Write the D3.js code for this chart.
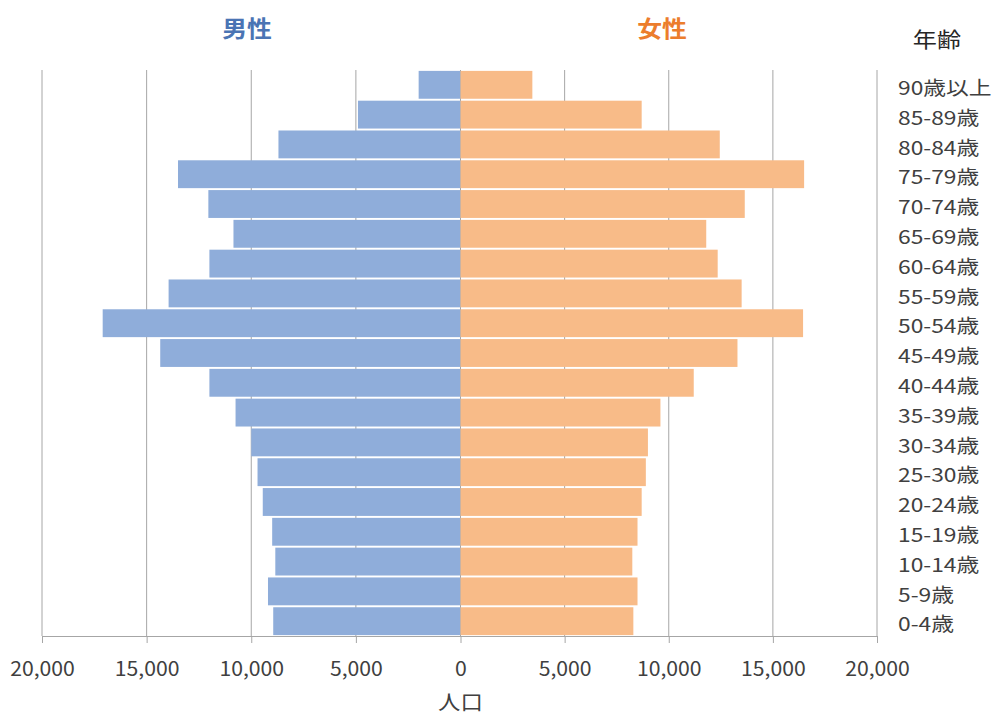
<!DOCTYPE html>
<html>
<head>
<meta charset="utf-8">
<script src="https://cdn.jsdelivr.net/npm/d3@7"></script>
<style>
  html, body { margin: 0; padding: 0; background: #fff; }
  svg { display: block; }
  text { font-family: "Noto Sans CJK JP", "Noto Sans", sans-serif; }
</style>
</head>
<body>
<svg id="chart" width="999" height="715"></svg>
<script>
// Age groups, oldest at the top
const ageGroups = ["90歳以上", "85-89歳", "80-84歳", "75-79歳", "70-74歳", "65-69歳",
  "60-64歳", "55-59歳", "50-54歳", "45-49歳", "40-44歳", "35-39歳", "30-34歳",
  "25-30歳", "20-24歳", "15-19歳", "10-14歳", "5-9歳", "0-4歳"];

// Population by age group
const male = [2000, 4900, 8700, 13500, 12050, 10850, 12000, 13950, 17100, 14350,
  12000, 10750, 10000, 9700, 9450, 9000, 8850, 9200, 8950];
const female = [3450, 8700, 12450, 16500, 13650, 11800, 12350, 13500, 16450, 13300,
  11200, 9600, 9000, 8900, 8700, 8500, 8250, 8500, 8300];

const tickValues = [0, 5000, 10000, 15000, 20000];
const maleTitle = "男性", femaleTitle = "女性";
const ageTitle = "年齢", popTitle = "人口";

const svg = d3.select("#chart");
const plotLeft = 42, zeroX = 460.5, plotRight = 877, plotTop = 70, plotBottom = 636;

const xMale = d3.scaleLinear().domain([0, 20000]).range([zeroX, plotLeft]);
const xFemale = d3.scaleLinear().domain([0, 20000]).range([zeroX, plotRight]);
const y = d3.scaleBand().domain(ageGroups).range([plotTop, plotBottom])
  .paddingInner(0.065).paddingOuter(0.03);

const gridColor = "#a6a6a6";
const textColor = "#404040";
const fmt = d3.format(",");

// text drawn with a slightly wide letterform
function wideText(x, yPos, sx, str) {
  return svg.append("text")
    .attr("transform", `translate(${x},${yPos}) scale(${sx},1)`)
    .attr("dominant-baseline", "central")
    .text(str);
}

// vertical gridlines
const grid = svg.append("g");
const gridXs = [...tickValues.map(v => xMale(v)), ...tickValues.slice(1).map(v => xFemale(v))];
grid.selectAll("line").data(gridXs).join("line")
  .attr("x1", d => d).attr("x2", d => d)
  .attr("y1", plotTop).attr("y2", plotBottom)
  .attr("stroke", gridColor).attr("stroke-width", 1);

// bars
svg.append("g").selectAll("rect").data(ageGroups).join("rect")
  .attr("x", (d, i) => xMale(male[i]))
  .attr("y", d => y(d))
  .attr("width", (d, i) => xMale(0) - xMale(male[i]))
  .attr("height", y.bandwidth())
  .attr("fill", "#8fadda");

svg.append("g").selectAll("rect").data(ageGroups).join("rect")
  .attr("x", xFemale(0))
  .attr("y", d => y(d))
  .attr("width", (d, i) => xFemale(female[i]) - xFemale(0))
  .attr("height", y.bandwidth())
  .attr("fill", "#f8bb88");

// bottom axes (male side mirrored)
const axisMale = d3.axisBottom(xMale).tickValues(tickValues).tickSizeInner(7).tickSizeOuter(0).tickFormat(fmt);
const axisFemale = d3.axisBottom(xFemale).tickValues(tickValues.slice(1)).tickSizeInner(7).tickSizeOuter(0).tickFormat(fmt);
[axisMale, axisFemale].forEach(ax => {
  const g = svg.append("g").attr("transform", `translate(0,${plotBottom})`).call(ax);
  g.select(".domain").attr("stroke", gridColor);
  g.selectAll(".tick line").attr("stroke", gridColor);
  g.selectAll(".tick text").attr("y", null).attr("dy", null)
    .attr("transform", "translate(0,31) scale(1.06,1)")
    .attr("dominant-baseline", "central")
    .attr("fill", textColor).style("font-size", "20px")
    .style("font-family", "'Noto Sans CJK JP', sans-serif");
});

// age labels on the right
svg.append("g").selectAll("text").data(ageGroups).join("text")
  .attr("transform", d => `translate(898,${y(d) + y.bandwidth() / 2 + 2}) scale(1.2,1)`)
  .attr("dominant-baseline", "central")
  .attr("fill", textColor)
  .style("font-size", "19px")
  .text(d => d);

// titles
wideText(247, 27, 1.08, maleTitle).attr("text-anchor", "middle").attr("fill", "#4a74b4")
  .style("font-size", "23px").style("font-weight", "bold");
wideText(662, 27, 1.08, femaleTitle).attr("text-anchor", "middle").attr("fill", "#ec7d2c")
  .style("font-size", "23px").style("font-weight", "bold");
wideText(937, 38, 1.15, ageTitle).attr("text-anchor", "middle").attr("fill", "#262626")
  .style("font-size", "21px");
wideText(zeroX, 701, 1.12, popTitle).attr("text-anchor", "middle").attr("fill", textColor)
  .style("font-size", "20px");
</script>
</body>
</html>
